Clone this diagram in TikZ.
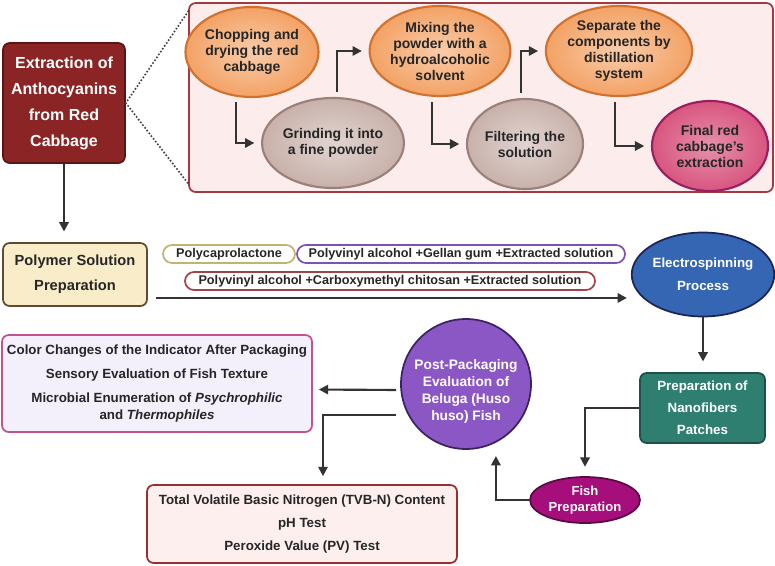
\documentclass[tikz,border=0pt]{standalone}
\usepackage{fontspec}
\setmainfont{Liberation Sans}
\usetikzlibrary{arrows.meta,positioning,shapes,shapes.misc,calc}

\definecolor{orfill}{HTML}{F3A265}\definecolor{orline}{HTML}{D2712E}
\definecolor{gyfill}{HTML}{C8B1AA}\definecolor{gyline}{HTML}{9A8079}
\definecolor{pkfill}{HTML}{D8557F}\definecolor{pkline}{HTML}{9B1F60}
\definecolor{panfill}{HTML}{FCEDEC}\definecolor{panline}{HTML}{A33A40}
\definecolor{wine}{HTML}{8B2525}\definecolor{wineline}{HTML}{5C1515}
\definecolor{cream}{HTML}{F9ECC8}\definecolor{creamline}{HTML}{5F4B33}
\definecolor{pclline}{HTML}{C2B36F}\definecolor{pvaline}{HTML}{7C52B5}\definecolor{cmcline}{HTML}{A4424C}
\definecolor{elfill}{HTML}{3466B3}\definecolor{elline}{HTML}{1C2455}
\definecolor{teal}{HTML}{2E7F70}\definecolor{tealline}{HTML}{1F5048}
\definecolor{fishfill}{HTML}{A50E7B}\definecolor{fishline}{HTML}{5A0A43}
\definecolor{postfill}{HTML}{8B57C4}\definecolor{postline}{HTML}{3B2265}
\definecolor{evfill}{HTML}{F3EFFB}\definecolor{evline}{HTML}{C3528F}
\definecolor{tsfill}{HTML}{FCEFEE}\definecolor{tsline}{HTML}{9B2F2F}

\begin{document}
\begin{tikzpicture}[x=0.75pt,y=-0.75pt,
  font=\bfseries\fontsize{10}{12}\selectfont, text=black!85,
  arr/.style={-{Triangle[length=7pt,width=7pt]},line width=1.6pt,draw=black!80},
  blob/.style={ellipse,draw,line width=1.6pt,minimum width=87pt,minimum height=67.5pt,inner sep=0pt,align=center,font=\bfseries\fontsize{10.5}{12}\selectfont},
  orng/.style={blob,inner color=orfill!55!white,outer color=orfill,draw=orline},
  grey/.style={blob,inner color=gyfill!55!white,outer color=gyfill,draw=gyline},
  pinkb/.style={blob,inner color=pkfill!65!white,outer color=pkfill,draw=pkline},
  box/.style={rectangle,rounded corners=5pt,draw,line width=1.3pt,align=center,inner sep=0pt},
  pill/.style={rounded rectangle,draw,line width=1.3pt,fill=white,inner sep=0pt,minimum height=13.5pt,font=\bfseries\fontsize{9.5}{11}\selectfont}]
\useasboundingbox (0,0) rectangle (775,565);

% extraction of the dye
\node[box,fill=panfill,draw=panline,minimum width=438pt,minimum height=141.75pt] (panel) at (481,97.5) {};
\node[box,fill=wine,draw=wineline,text=white,minimum width=91.5pt,minimum height=90pt,font=\bfseries\fontsize{12}{19.5}\selectfont] (extr) at (64,103) {Extraction of\\Anthocyanins\\from Red\\Cabbage};
\draw[line width=1.7pt,black!75,line cap=round,dash pattern=on 0pt off 2.6pt] ([yshift=-7pt]panel.north west) -- (extr.east) -- ([yshift=7pt]panel.south west);

\foreach \n/\x/\y/\s/\t in {chop/252/52/orng/{Chopping and\\drying the red\\cabbage}, grind/333/143/grey/{Grinding it into\\a fine powder}, mix/440/51/orng/{Mixing the\\powder with a\\hydroalcoholic\\solvent}, filt/525/144/grey/{Filtering the\\solution}, sep/619/51/orng/{Separate the\\components by\\distillation\\system}, final/710/146/pinkb/{Final red\\cabbage's\\extraction}}
  \node[\s] (\n) at (\x,\y) {\t};
\foreach \a/\b in {chop.250/grind, grind.85/mix, mix.260/filt, filt.95/sep, sep.265/final}
  \draw[arr,shorten >=5pt,shorten <=4pt] (\a) |- (\b.west);

% electrospinning
\node[box,fill=cream,draw=creamline,minimum width=108pt,minimum height=47.25pt,font=\bfseries\fontsize{11}{18.75}\selectfont] (poly) at (75,274.5) {Polymer Solution\\Preparation};
\draw[arr,shorten >=8pt] (extr.south) -- (extr.south |- poly.north);
\node[pill,draw=pclline,minimum width=99pt] (pcl) at (229,254) {Polycaprolactone};
\node[pill,draw=pvaline,minimum width=246pt] (pva) at (461,254) {Polyvinyl alcohol +Gellan gum +Extracted solution};
\node[pill,draw=cmcline,minimum width=307.5pt] (cmc) at (390,281) {Polyvinyl alcohol +Carboxymethyl chitosan +Extracted solution};
\node[ellipse,draw=elline,fill=elfill,line width=1.3pt,text=white,minimum width=100.5pt,minimum height=63pt,inner sep=0pt,align=center,font=\bfseries\fontsize{10}{17.25}\selectfont] (elec) at (703,274.5) {Electrospinning\\Process};
\draw[arr] ([xshift=6pt,yshift=-17.6pt]poly.east) -- ([xshift=-3pt,yshift=-17.6pt]elec.west);

% packaging and tests
\node[box,fill=teal,draw=tealline,text=white,minimum width=93.75pt,minimum height=52.5pt,font=\bfseries\fontsize{10}{16.5}\selectfont] (nano) at (702.5,408) {Preparation of\\Nanofibers\\Patches};
\draw[arr,shorten >=8pt] (elec.south) -- (elec.south |- nano.north);
\node[ellipse,draw=fishline,fill=fishfill,line width=1.3pt,text=white,minimum width=82.5pt,minimum height=34.5pt,inner sep=0pt,align=center,font=\bfseries\fontsize{9.8}{12}\selectfont] (fish) at (585,500) {Fish\\Preparation};
\draw[arr,shorten >=7pt] (nano.west) -| (fish.north);
\node[circle,draw=postline,fill=postfill,line width=1.3pt,minimum size=97.5pt,inner sep=0pt] (post) at (466,384) {};
\node[text=white,align=center,font=\bfseries\fontsize{10.3}{12.75}\selectfont] (posttxt) at ([yshift=-5.5pt]post.center) {Post-Packaging\\Evaluation of\\Beluga (Huso\\huso) Fish};
\draw[arr,shorten >=10pt] (fish.west) -| (post.-63);

\node[box,fill=evfill,draw=evline,minimum width=232.5pt,minimum height=72.75pt,font=\bfseries\fontsize{10}{12.75}\selectfont] (sens) at (157,383.5) {Color Changes of the Indicator After Packaging\\[5pt]Sensory Evaluation of Fish Texture\\[5pt]Microbial Enumeration of \textit{Psychrophilic}\\and \textit{Thermophiles}};
\node[box,fill=tsfill,draw=tsline,minimum width=232.5pt,minimum height=58.5pt,font=\bfseries\fontsize{10}{17.5}\selectfont] (chem) at (302,524) {Total Volatile Basic Nitrogen (TVB-N) Content\\pH Test\\Peroxide Value (PV) Test};
\draw[arr,shorten >=4.5pt,shorten <=3pt] ([yshift=-4.5pt]post.west) -- ([yshift=-4.5pt]sens.east);
\draw[arr,shorten <=3pt,shorten >=6pt] ([yshift=-23pt]post.west) -| ([xshift=15.75pt]chem.north);
\end{tikzpicture}
\end{document}
